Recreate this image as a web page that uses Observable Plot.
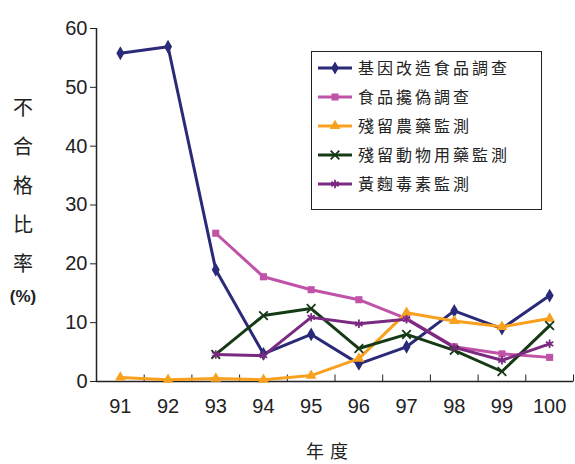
<!DOCTYPE html>
<html><head><meta charset="utf-8">
<script src="https://cdn.jsdelivr.net/npm/d3@7"></script>
<script src="https://cdn.jsdelivr.net/npm/@observablehq/plot@0.6"></script>
<style>
body{margin:0;background:#fff;}
#wrap{position:relative;width:575px;height:464px;font-family:"Liberation Sans",Arial,sans-serif;}
#ytitle{position:absolute;left:8px;top:87px;width:30px;text-align:center;font-family:"Noto Sans CJK TC",sans-serif;font-size:20px;line-height:39px;color:#222;}
#ytitle .pct{display:block;font-family:"Liberation Sans",Arial,sans-serif;font-weight:bold;font-size:17px;line-height:22px;margin-top:4px;}
#xtitle{position:absolute;left:300px;top:437px;width:60px;text-align:center;font-family:"Noto Sans CJK TC",sans-serif;font-size:18px;line-height:normal;letter-spacing:6px;color:#222;}
#legend{position:absolute;left:311px;top:51px;width:229px;height:157px;border:1.5px solid #222;background:#fff;}
</style></head>
<body><div id="wrap"><div id="chart"></div>
<div id="ytitle">不<br>合<br>格<br>比<br>率<span class="pct">(%)</span></div>
<div id="xtitle">年度</div>
<div id="legend"></div>
</div>
<script>
const years = [91, 92, 93, 94, 95, 96, 97, 98, 99, 100];
const seriesNames = ["基因改造食品調查", "食品攙偽調查", "殘留農藥監測", "殘留動物用藥監測", "黃麴毒素監測"];
const gmFood = [55.8, 56.9, 19.0, 4.7, 8.0, 3.0, 5.9, 12.0, 9.0, 14.6];
const adulteration = [null, null, 25.2, 17.8, 15.6, 13.9, 10.7, 5.9, 4.7, 4.1];
const pesticide = [0.7, 0.3, 0.5, 0.3, 1.0, 3.9, 11.7, 10.3, 9.3, 10.7];
const vetDrug = [null, null, 4.6, 11.2, 12.4, 5.6, 8.0, 5.3, 1.7, 9.5];
const aflatoxin = [null, null, 4.6, 4.4, 10.9, 9.8, 10.6, 5.8, 3.6, 6.4];
const yTicks = [0, 10, 20, 30, 40, 50, 60];

const colors = ["#2a2a78", "#c052a8", "#f8a11f", "#163a16", "#7b2a82"];
const symbols = ["diamond", "square", "triangle", "times", "asterisk"];
const filled = [true, true, true, false, false];
const values = [gmFood, adulteration, pesticide, vetDrug, aflatoxin];

const boundaries = [years[0] - 0.5, ...years.map(y => y + 0.5)];
const tickUp = {draw(ctx) { ctx.moveTo(0, 0); ctx.lineTo(0, -7); }};

const marks = [
  Plot.ruleY([0], {stroke: "#222", strokeWidth: 1.5}),
  Plot.ruleX([boundaries[0]], {y1: 0, y2: yTicks[yTicks.length - 1], stroke: "#222", strokeWidth: 1.5}),
  Plot.dot(boundaries.slice(1), {x: d => d, y: 0, symbol: tickUp, stroke: "#222", strokeWidth: 1}),
  Plot.axisY({ticks: yTicks, tickSize: 6, tickPadding: 3, fontSize: 20, label: null, stroke: "#222"}),
  Plot.axisX({ticks: years, tickSize: 0, tickPadding: 17, fontSize: 20, label: null, tickFormat: d => String(d)})
];

values.forEach((arr, k) => {
  const rows = years.map((y, i) => ({year: y, value: arr[i]}));
  marks.push(Plot.line(rows, {x: "year", y: "value", stroke: colors[k], strokeWidth: 3}));
});
values.forEach((arr, k) => {
  const rows = years.map((y, i) => ({year: y, value: arr[i]})).filter(d => d.value != null);
  const opts = {x: "year", y: "value", symbol: symbols[k], r: k === 0 ? 4.2 : 4};
  if (filled[k]) { opts.fill = colors[k]; opts.stroke = "none"; }
  else { opts.fill = "none"; opts.stroke = colors[k]; opts.strokeWidth = 1.8; }
  marks.push(Plot.dot(rows, opts));
});

const chart = Plot.plot({
  width: 575, height: 464,
  marginLeft: 96, marginRight: 2, marginTop: 28, marginBottom: 83,
  x: {type: "linear", domain: [boundaries[0], boundaries[boundaries.length - 1]]},
  y: {domain: [0, 60]},
  style: {fontFamily: "'Liberation Sans', Arial, sans-serif", color: "#222", background: "#fff"},
  marks
});
document.getElementById("chart").appendChild(chart);

// legend
const leg = d3.select("#legend").append("svg").attr("width", 229).attr("height", 157);
const symMap = {diamond: d3.symbolDiamond, square: d3.symbolSquare, triangle: d3.symbolTriangle, times: d3.symbolTimes, asterisk: d3.symbolAsterisk};
seriesNames.forEach((name, k) => {
  const cy = 16 + k * 29;
  const g = leg.append("g");
  g.append("line").attr("x1", 6).attr("x2", 40).attr("y1", cy).attr("y2", cy).attr("stroke", colors[k]).attr("stroke-width", 3);
  const p = g.append("path").attr("transform", `translate(23,${cy})`)
    .attr("d", d3.symbol(symMap[symbols[k]], Math.PI * 16)());
  if (filled[k]) p.attr("fill", colors[k]); else p.attr("fill", "none").attr("stroke", colors[k]).attr("stroke-width", 1.8);
  g.append("text").attr("x", 46).attr("y", cy).attr("dy", "0.36em")
    .attr("font-family", "'Noto Sans CJK TC', sans-serif").attr("font-size", 16)
    .attr("letter-spacing", 3).attr("fill", "#222").text(name);
});
</script></body></html>
